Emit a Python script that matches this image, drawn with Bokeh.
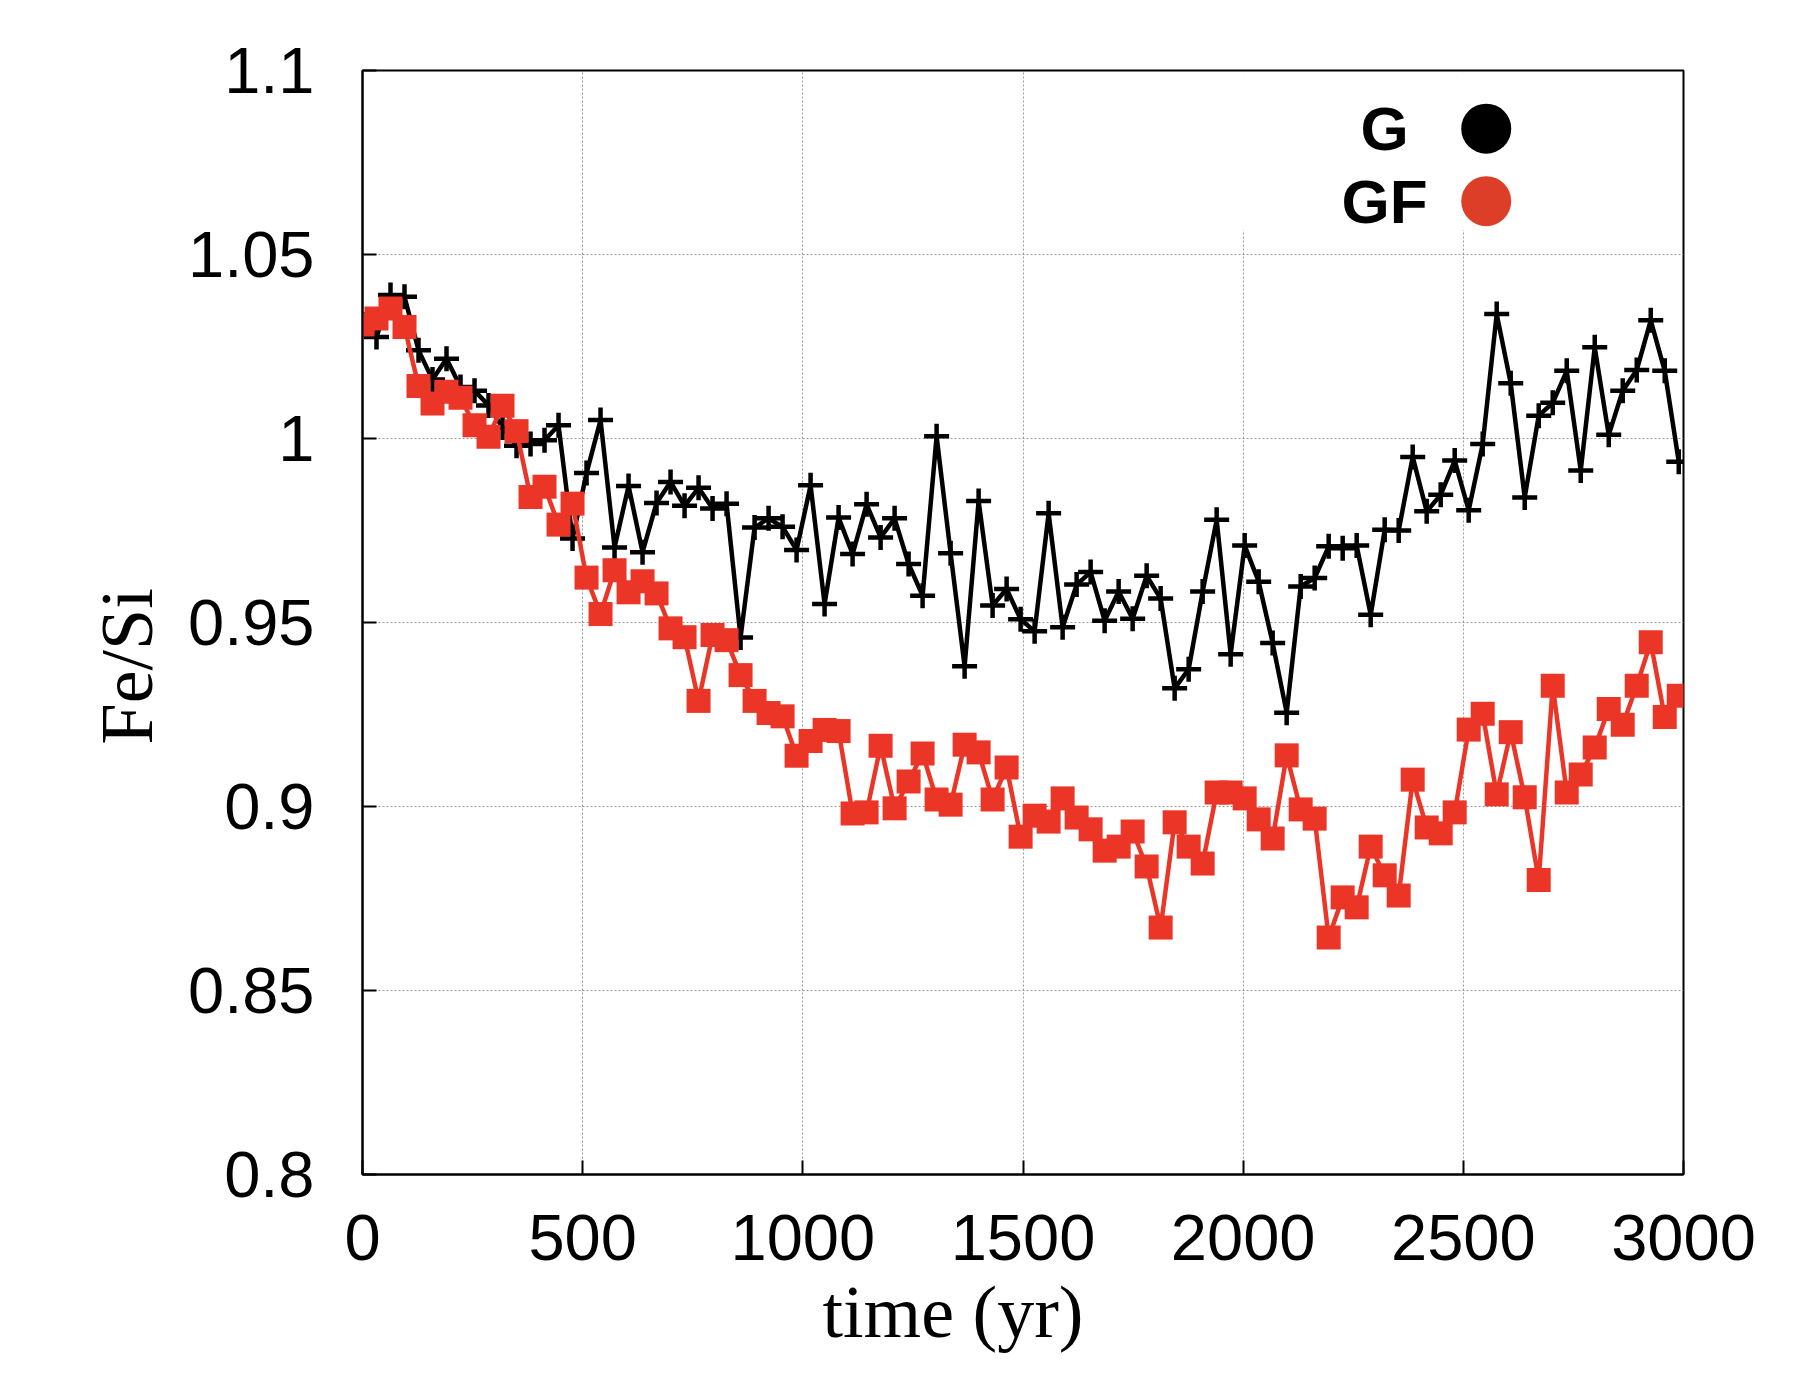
import math
from bokeh.plotting import figure
from bokeh.models import (FixedTicker, CustomJSTickFormatter, BoxAnnotation,
                          Range1d, ColumnDataSource, Title)
from bokeh.core.properties import value
from bokeh.embed import file_html
from bokeh.resources import INLINE

# ---------------- data ----------------
time_yr = [0, 31.8, 63.6, 95.4, 127.2, 159, 190.8, 222.6, 254.4, 286.2,
           318, 349.8, 381.6, 413.4, 445.2, 477, 508.8, 540.6, 572.4, 604.2,
           636, 667.8, 699.6, 731.4, 763.2, 795, 826.8, 858.6, 890.4, 922.2,
           954, 985.8, 1017.6, 1049.4, 1081.2, 1113, 1144.8, 1176.6, 1208.4, 1240.2,
           1272, 1303.8, 1335.6, 1367.4, 1399.2, 1431, 1462.8, 1494.6, 1526.4, 1558.2,
           1590, 1621.8, 1653.6, 1685.4, 1717.2, 1749, 1780.8, 1812.6, 1844.4, 1876.2,
           1908, 1939.8, 1971.6, 2003.4, 2035.2, 2067, 2098.8, 2130.6, 2162.4, 2194.2,
           2226, 2257.8, 2289.6, 2321.4, 2353.2, 2385, 2416.8, 2448.6, 2480.4, 2512.2,
           2544, 2575.8, 2607.6, 2639.4, 2671.2, 2703, 2734.8, 2766.6, 2798.4, 2830.2,
           2862, 2893.8, 2925.6, 2957.4, 2989.2]

fe_si_G = [1.031, 1.0276, 1.039, 1.0385, 1.024, 1.016, 1.0217, 1.014, 1.013, 1.009,
           1.003, 0.998, 0.9985, 0.9995, 1.0036, 0.9728, 0.9906, 1.005, 0.9704, 0.9871,
           0.9691, 0.9825, 0.9882, 0.9817, 0.9866, 0.981, 0.9823, 0.9459, 0.9758, 0.9783,
           0.976, 0.9697, 0.9873, 0.955, 0.9785, 0.9686, 0.9821, 0.9731, 0.9783, 0.9659,
           0.9573, 1.0006, 0.9688, 0.9381, 0.983, 0.9546, 0.9591, 0.9509, 0.9476, 0.9797,
           0.9487, 0.9603, 0.9637, 0.9505, 0.9584, 0.951, 0.9627, 0.9565, 0.9321, 0.9373,
           0.9584, 0.9779, 0.9414, 0.9709, 0.9611, 0.9444, 0.9255, 0.9598, 0.9621, 0.9707,
           0.9702, 0.9709, 0.9521, 0.9752, 0.975, 0.995, 0.9802, 0.9847, 0.994, 0.9805,
           0.9985, 1.0338, 1.015, 0.984, 1.0062, 1.0097, 1.0184, 0.9913, 1.0248, 1.001,
           1.013, 1.0186, 1.0321, 1.0184, 0.9937]

fe_si_GF = [1.031, 1.0326, 1.0353, 1.0303, 1.0143, 1.0095, 1.0127, 1.0111, 1.0036, 1.0005,
            1.0089, 1.002, 0.9841, 0.9869, 0.9766, 0.9823, 0.9622, 0.9523, 0.9642, 0.9582,
            0.9612, 0.9579, 0.9484, 0.946, 0.9287, 0.9466, 0.9452, 0.9357, 0.9287, 0.9254,
            0.9245, 0.9138, 0.9178, 0.9208, 0.9205, 0.8981, 0.8984, 0.9165, 0.8995, 0.9068,
            0.9144, 0.9019, 0.9005, 0.9168, 0.9147, 0.9019, 0.9106, 0.8918, 0.8975, 0.8959,
            0.9022, 0.897, 0.8938, 0.888, 0.8891, 0.8932, 0.8837, 0.8671, 0.8957, 0.8891,
            0.8845, 0.9038, 0.9038, 0.9022, 0.8965, 0.8913, 0.9139, 0.8992, 0.8967, 0.8644,
            0.8753, 0.8726, 0.8891, 0.8813, 0.8758, 0.9073, 0.8943, 0.8927, 0.8984, 0.9209,
            0.9252, 0.9033, 0.9202, 0.9025, 0.880, 0.9328, 0.9038, 0.9087, 0.916, 0.9265,
            0.9222, 0.9328, 0.9446, 0.9243, 0.9301]

x_ticks = [0, 500, 1000, 1500, 2000, 2500, 3000]
y_ticks = [0.8, 0.85, 0.9, 0.95, 1.0, 1.05, 1.1]
legend_labels = ["G", "GF"]

# ---------------- styles / layout ----------------
BLACK = "#000000"
RED = "#EA3527"
RED_LEG = "#DC3E28"
W, H = 1784, 1384
TICK_FONT = "Liberation Sans"
LABEL_FONT = "Liberation Serif"

p = figure(width=W, height=H, x_range=Range1d(0, 3000), y_range=Range1d(0.8, 1.1),
           output_backend="svg", toolbar_location=None,
           min_border_left=362, min_border_right=101, min_border_top=70, min_border_bottom=210,
           background_fill_color="white", border_fill_color="white")

p.outline_line_color = BLACK
p.outline_line_width = 2
p.outline_line_alpha = 1.0

for ax in (p.xaxis[0], p.yaxis[0]):
    ax.axis_line_color = BLACK
    ax.axis_line_width = 2
    ax.major_tick_in = 14
    ax.major_tick_out = 0
    ax.major_tick_line_width = 2
    ax.major_tick_line_color = BLACK
    ax.minor_tick_line_color = None
    ax.major_label_text_font = TICK_FONT
    ax.major_label_text_font_size = "65px"
    ax.major_label_text_color = BLACK

p.xaxis.ticker = FixedTicker(ticks=x_ticks)
p.yaxis.ticker = FixedTicker(ticks=y_ticks)
p.yaxis.formatter = CustomJSTickFormatter(code="return Number(tick.toFixed(2)).toString();")
p.xaxis.major_label_standoff = 40
p.yaxis.major_label_standoff = 48

# axis titles as side titles (offset from the frame start, like the reference)
p.add_layout(Title(text="time (yr)", align="left", offset=460, standoff=12,
                   text_font=LABEL_FONT, text_font_size="74px", text_font_style="normal",
                   text_color=BLACK), "below")
p.add_layout(Title(text="Fe/Si", align="left", offset=430, standoff=34,
                   text_font=LABEL_FONT, text_font_size="74px", text_font_style="normal",
                   text_color=BLACK), "left")

p.grid.grid_line_color = "#9a9a9a"
p.grid.grid_line_dash = "2 2"
p.grid.grid_line_width = 1

# opaque legend area (hides grid lines like the reference key box)
p.add_layout(BoxAnnotation(left=1860, right=2995, bottom=1.0566, top=1.0995,
                           fill_color="white", fill_alpha=1.0, line_color=None,
                           level="underlay"))

src = ColumnDataSource(dict(t=time_yr, g=fe_si_G, gf=fe_si_GF))

p.line("t", "g", source=src, line_color=BLACK, line_width=4.5)
p.scatter("t", "g", source=src, marker="cross", size=25, line_color=BLACK, line_width=4.5)

p.line("t", "gf", source=src, line_color=RED, line_width=4.5)
p.scatter("t", "gf", source=src, marker="square", size=24, fill_color=RED, line_color=None)

# legend (text left of a big dot)
leg_text_x = 2321
leg_dot_x = 2552
leg_y = [1.0842, 1.0645]
leg_colors = [BLACK, RED_LEG]
p.text(x=[leg_text_x] * 2, y=leg_y, text=legend_labels,
       text_font=value(TICK_FONT), text_font_style="bold", text_font_size="62px",
       text_align="center", text_baseline="middle", text_color=BLACK)
p.scatter(x=[leg_dot_x] * 2, y=leg_y, marker="circle", size=50,
          fill_color=leg_colors, line_color=None)

open("out.html", "w").write(file_html(p, INLINE))
